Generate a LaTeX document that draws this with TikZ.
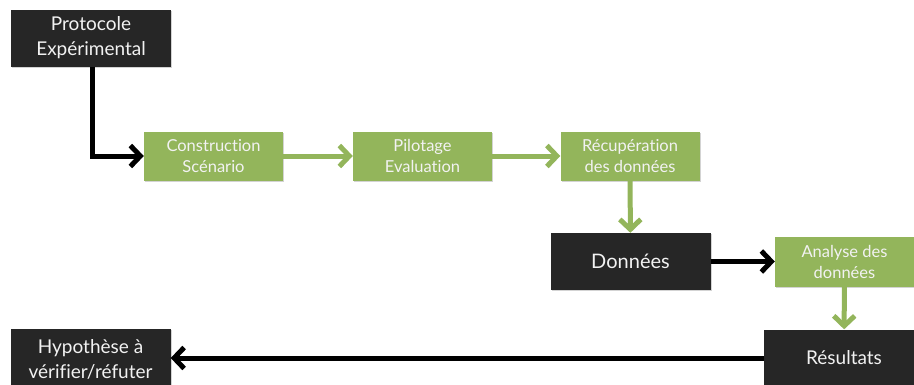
\documentclass[tikz,border=0pt]{standalone}
\usepackage{fontspec}
\setmainfont{Lato}[Ligatures={NoCommon}]
\usetikzlibrary{arrows.meta,shadows}
\definecolor{boxgreen}{HTML}{93B55B}
\definecolor{arrgreen}{HTML}{93B55B}
\definecolor{boxblack}{HTML}{262626}
\begin{document}
\begin{tikzpicture}[x=1pt,y=-1pt,
  base/.style={rectangle, inner sep=2pt, align=center, text=white!95!black,
    drop shadow={opacity=0.35, shadow xshift=1.2pt, shadow yshift=-1.2pt}},
  blackbox/.style={base, fill=boxblack, minimum width=160pt, minimum height=57pt,
    font=\fontsize{19}{25}\selectfont},
  greenbox/.style={base, fill=boxgreen, minimum width=139pt, minimum height=49pt,
    font=\fontsize{16.5}{21}\selectfont},
  conn/.style={line width=5pt, -{Straight Barb[length=10pt,width=21pt,line join=miter]}},
  blackconn/.style={conn, draw=black},
  greenconn/.style={conn, draw=arrgreen},
]
\clip (0,0) rectangle (914,384);
\useasboundingbox (0,0) rectangle (914,384);

\node[blackbox] (proto) at (91,38) {Protocole\\Expérimental};
\node[greenbox] (constr) at (213.5,156) {Construction\\Scénario};
\node[greenbox] (pilot) at (422.5,156) {Pilotage\\Evaluation};
\node[greenbox] (recup) at (630,156) {Récupération\\des données};
\node[blackbox] (donnees) at (630.5,261.5) {\fontsize{20}{24}\selectfont Données};
\node[greenbox, minimum height=50pt] (analyse) at (844.5,261.5) {Analyse des\\données};
\node[blackbox] (result) at (844,358) {Résultats};
\node[blackbox, minimum height=60pt] (hypo) at (90.5,359) {Hypothèse à\\vérifier/réfuter};

\draw[blackconn] (proto.south -| 92,0) |- (constr.west);
\draw[greenconn] (constr) -- (pilot);
\draw[greenconn] (pilot) -- (recup);
\draw[greenconn] (recup) -- (donnees);
\draw[blackconn] (donnees.east) -- (analyse.west);
\draw[greenconn] (analyse) -- (result);
\draw[blackconn] (result.west) -- (result.west -| hypo.east);
\end{tikzpicture}
\end{document}
